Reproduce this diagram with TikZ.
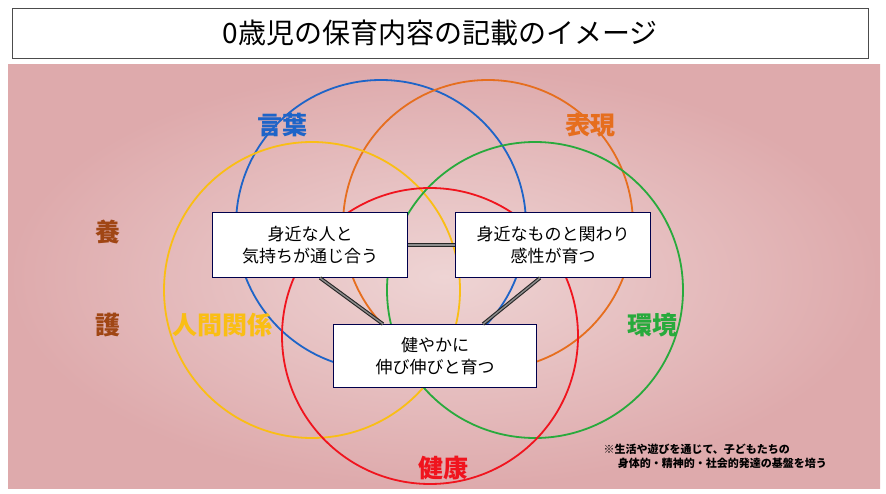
\documentclass[tikz,border=0pt]{standalone}
\usepackage{fontspec}
\setmainfont{Noto Sans CJK JP}
\begin{document}
\begin{tikzpicture}[x=1pt,y=-1pt,
  circ/.style={line width=1.8pt},
  box/.style={draw=black!70!blue,fill=white,line width=0.8pt,minimum width=195pt,minimum height=65pt,align=center,font=\fontsize{17}{22}\selectfont,inner sep=0pt},
  lab/.style={font=\bfseries\fontsize{25}{27}\selectfont},
  dbl/.style={double=black!45,double distance=1.4pt,line width=1.1pt,draw=black!85}]
\useasboundingbox (0,0) rectangle (886,494);
\definecolor{cblue}{RGB}{30,100,200}
\definecolor{corange}{RGB}{230,110,30}
\definecolor{cyellow}{RGB}{250,190,20}
\definecolor{cgreen}{RGB}{40,170,60}
\definecolor{cred}{RGB}{240,20,30}
\definecolor{cbrown}{RGB}{160,70,20}
\definecolor{pinkin}{RGB}{238,212,212}
\definecolor{pinkout}{RGB}{222,170,172}
\shade[inner color=pinkin,outer color=pinkout,shading=radial] (8,65) rectangle (880,488);
\node[draw=black!70,line width=0.8pt,minimum width=856pt,minimum height=50pt,fill=white,font=\fontsize{28}{30}\selectfont] (title) at (440,33) {0歳児の保育内容の記載のイメージ};
\draw[circ,cblue] (381,225) circle (145);
\draw[circ,corange] (488,225) circle (145);
\draw[circ,cyellow] (312,290) circle (148);
\draw[circ,cgreen] (535,290) circle (148);
\draw[circ,cred] (430,336) circle (148);
\node[box] (L) at (310,245) {身近な人と\\気持ちが通じ合う};
\node[box] (R) at (553,245) {身近なものと関わり\\感性が育つ};
\node[box,minimum width=203pt,minimum height=63pt] (B) at (435,356) {健やかに\\伸び伸びと育つ};
\draw[dbl] (L.east) -- (R.west);
\draw[dbl] ([xshift=10pt]L.south) -- ([xshift=-52pt]B.north);
\draw[dbl] ([xshift=-13pt]R.south) -- ([xshift=48pt]B.north);
\node[lab,cblue] (t1) at (282,125) {言葉};
\node[lab,corange] (t2) at (590,125) {表現};
\node[lab,cbrown] (t3) at (108,232) {養};
\node[lab,cbrown] (t4) at (108,325) {護};
\node[lab,cyellow] (t5) at (222,325) {人間関係};
\node[lab,cgreen] (t6) at (652,325) {環境};
\node[lab,cred] (t7) at (443,468) {健康};
\node[font=\bfseries\fontsize{11}{14}\selectfont,align=left,anchor=west] (note) at (600,456) {※生活や遊びを通じて、子どもたちの\\\hspace*{1.3em}身体的・精神的・社会的発達の基盤を培う};
\end{tikzpicture}
\end{document}
